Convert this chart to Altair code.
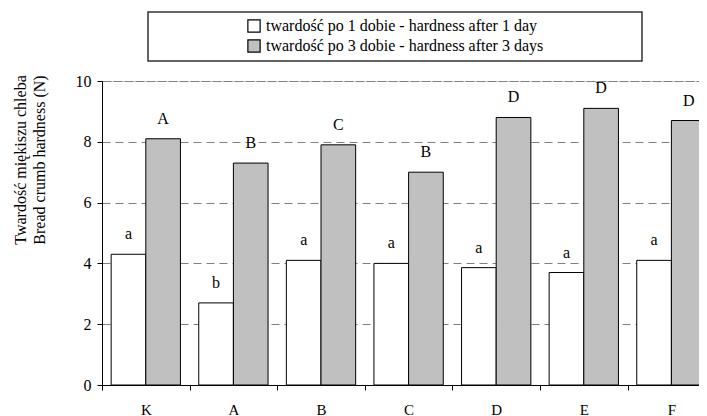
import altair as alt
import pandas as pd

categories = ["K", "A", "B", "C", "D", "E", "F"]
series = ["twardość po 1 dobie - hardness after 1 day",
          "twardość po 3 dobie - hardness after 3 days"]
day1 = [4.3, 2.7, 4.1, 4.0, 3.86, 3.7, 4.1]
day3 = [8.1, 7.3, 7.9, 7.0, 8.8, 9.1, 8.7]
letters1 = ["a", "b", "a", "a", "a", "a", "a"]
letters3 = ["A", "B", "C", "B", "D", "D", "D"]
y_ticks = [0, 2, 4, 6, 8, 10]
title_lines = ["Twardość miękiszu chleba", "Bread crumb hardness (N)"]

rows = []
for i, c in enumerate(categories):
    rows.append({"cat": c, "series": series[0], "value": day1[i], "letter": letters1[i]})
    rows.append({"cat": c, "series": series[1], "value": day3[i], "letter": letters3[i]})
df = pd.DataFrame(rows)

FONT = "Liberation Serif, Times New Roman, serif"

x_enc = alt.X("cat:N", sort=categories,
              scale=alt.Scale(domain=categories, range=[0, 613.2], paddingInner=0, paddingOuter=0),
              axis=alt.Axis(title=None, labelAngle=0, tickBand="extent", tickSize=5,
                            labelPadding=12, labelFontSize=15, labelFont=FONT,
                            labelColor="black", tickColor="black", domainColor="black",
                            domainWidth=1, grid=False))
xo_enc = alt.XOffset("series:N", sort=series,
                     scale=alt.Scale(domain=series, paddingOuter=0.264, paddingInner=0))
y_enc = alt.Y("value:Q",
              scale=alt.Scale(domain=[0, 10], nice=False),
              axis=alt.Axis(title=None, values=y_ticks, tickSize=5, labelPadding=6,
                            labelFontSize=16, labelFont=FONT, labelColor="black",
                            tickColor="black", domainColor="black", grid=True,
                            gridColor="#808080", gridWidth=1,
                            gridDash=alt.condition("datum.value == 10", alt.value([9, 2]), alt.value([8, 5]))))

base = alt.Chart(df)

bars = base.mark_bar(stroke="black", strokeWidth=1, clip=True).encode(
    x=x_enc,
    xOffset=xo_enc,
    y=y_enc,
    fill=alt.Fill("series:N", sort=series,
                  scale=alt.Scale(domain=series, range=["white", "#C0C0C0"]),
                  legend=alt.Legend(title=None, orient="none", legendX=144, legendY=-63,
                                    symbolType="square", symbolSize=150,
                                    symbolStrokeColor="black", symbolStrokeWidth=1.2,
                                    labelFont=FONT, labelFontSize=16, labelColor="black",
                                    labelOffset=4, rowPadding=2, padding=0,
                                    labelLimit=400)),
)

texts = base.mark_text(font=FONT, fontSize=16, color="black", baseline="alphabetic",
                       dy=-15, clip=True).encode(
    x=alt.X("cat:N", sort=categories),
    xOffset=alt.XOffset("series:N", sort=series),
    y=alt.Y("value:Q"),
    text="letter:N",
)

one = alt.Chart(pd.DataFrame({"k": [0]}))
legend_box = one.mark_rect(fill="transparent", stroke="#333333", strokeWidth=1.5).encode(
    x=alt.value(46), x2=alt.value(540), y=alt.value(-69), y2=alt.value(-20)
)

ytitle1 = alt.Chart(pd.DataFrame({"t": [title_lines[0]]})).mark_text(
    font=FONT, fontSize=16, angle=270, color="black", align="center", baseline="middle"
).encode(x=alt.value(-81), y=alt.value(79), text="t:N")
ytitle2 = alt.Chart(pd.DataFrame({"t": [title_lines[1]]})).mark_text(
    font=FONT, fontSize=16, angle=270, color="black", align="center", baseline="middle"
).encode(x=alt.value(-62), y=alt.value(79), text="t:N")

chart = alt.layer(bars, texts, legend_box, ytitle1, ytitle2).properties(
    width=597, height=304,
    autosize=alt.AutoSizeParams(type="none"),
    padding={"left": 94, "top": 73, "right": 0, "bottom": 31},
).configure_view(stroke=None).configure(font=FONT)

chart.save("out.html", embed_options={"renderer": "svg", "actions": False})
